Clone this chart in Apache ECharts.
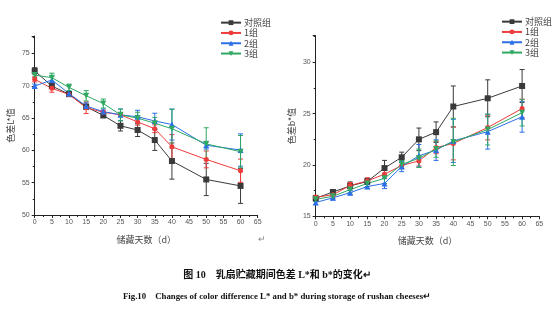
<!DOCTYPE html>
<html><head><meta charset="utf-8">
<script src="https://cdn.jsdelivr.net/npm/echarts@6/dist/echarts.min.js"></script>
<style>html,body{margin:0;padding:0;background:#fff}#c{width:554px;height:321px}</style>
</head><body><div id="c"></div>
<script>
var days = [0,5,10,15,20,25,30,35,40,50,60];
var groupNames = ['对照组','1组','2组','3组'];
var xTicks = [0,5,10,15,20,25,30,35,40,45,50,55,60,65];

var L_ctrl = [72.3,69.95,68.7,66.75,65.4,63.8,63.15,61.6,58.35,55.5,54.5];
var L_ctrl_err = [0.5,0.4,0.3,0.4,0.3,0.8,1.0,1.6,2.8,2.5,2.7];
var L_g1 = [71.0,69.6,68.65,66.6,65.9,65.5,64.4,63.35,60.55,58.6,56.85];
var L_g1_err = [0.4,0.6,0.3,0.9,0.3,0.3,0.5,0.6,1.9,1.3,1.8];
var L_g2 = [69.95,70.9,68.8,66.85,66.0,65.5,65.2,64.55,64.0,60.8,60.05];
var L_g2_err = [0.3,0.6,0.3,0.5,0.4,0.9,1.0,1.2,2.4,0.6,2.5];
var L_g3 = [71.65,71.25,69.75,68.45,67.25,65.5,65.0,64.2,63.35,61.0,59.8];
var L_g3_err = [0.4,0.7,0.5,0.8,0.7,0.9,0.9,0.9,3.0,2.5,2.5];

var B_ctrl = [16.75,17.37,17.95,18.4,19.7,20.75,22.5,23.2,25.7,26.5,27.7];
var B_ctrl_err = [0.2,0.2,0.4,0.3,0.75,0.5,1.1,1.0,2.0,1.8,1.6];
var B_g1 = [16.85,17.1,18.0,18.45,19.1,19.95,20.4,21.7,22.1,23.65,25.5];
var B_g1_err = [0.2,0.2,0.3,0.3,0.4,0.3,0.5,0.6,1.6,1.2,0.9];
var B_g2 = [16.35,16.8,17.3,17.9,18.2,19.85,20.9,21.45,22.35,23.25,24.7];
var B_g2_err = [0.2,0.2,0.2,0.2,0.5,0.5,1.1,1.0,2.1,1.7,1.5];
var B_g3 = [16.65,16.95,17.6,18.2,18.7,20.05,20.65,21.55,22.25,23.45,25.1];
var B_g3_err = [0.2,0.2,0.3,0.3,0.5,0.4,0.9,0.8,2.3,1.5,1.3];

var colors = ['#3a3a3a','#ef3b3b','#2a6fe6','#2fa862'];
var symbols = ['rect','circle','triangle','path://M0,0 L10,0 L5,9 Z'];
var sizes = [6,5,6,6];

var Lsets = [[L_ctrl,L_ctrl_err],[L_g1,L_g1_err],[L_g2,L_g2_err],[L_g3,L_g3_err]];
var Bsets = [[B_ctrl,B_ctrl_err],[B_g1,B_g1_err],[B_g2,B_g2_err],[B_g3,B_g3_err]];

function pairs(v){ return days.map(function(d,i){return [d,v[i]];}); }
function triples(v,e){ return days.map(function(d,i){return [d,v[i],e[i]];}); }

function errSeries(v,e,color,gi){
  return {
    type:'custom', xAxisIndex:gi, yAxisIndex:gi, silent:true, z:1,
    data: triples(v,e),
    renderItem:function(params,api){
      var x=api.value(0), y=api.value(1), er=api.value(2);
      var top=api.coord([x,y+er]), bot=api.coord([x,y-er]);
      var w=2.5;
      var st={stroke:color,lineWidth:1};
      return {type:'group',children:[
        {type:'line',shape:{x1:top[0],y1:top[1],x2:bot[0],y2:bot[1]},style:st},
        {type:'line',shape:{x1:top[0]-w,y1:top[1],x2:top[0]+w,y2:top[1]},style:st},
        {type:'line',shape:{x1:bot[0]-w,y1:bot[1],x2:bot[0]+w,y2:bot[1]},style:st}
      ]};
    }
  };
}

var series=[];
[Lsets,Bsets].forEach(function(sets,gi){
  sets.forEach(function(s,k){
    series.push(errSeries(s[0],s[1],colors[k],gi));
  });
  sets.forEach(function(s,k){
    series.push({
      name:groupNames[k], type:'line', xAxisIndex:gi, yAxisIndex:gi,
      data:pairs(s[0]), symbol:symbols[k], symbolSize:sizes[k], showSymbol:true,
      itemStyle:{color:colors[k]}, lineStyle:{color:colors[k],width:1}, z:3
    });
  });
});

function xAxis(gi){
  return {
    gridIndex:gi, type:'value', min:0, max:65, interval:5,
    name:'储藏天数（d）', nameLocation:'middle', nameGap:20,
    nameTextStyle:{fontSize:9,color:'#444',fontFamily:'Noto Sans CJK SC'},
    axisLine:{show:true,lineStyle:{color:'#222',width:1}},
    axisTick:{show:true,length:3,lineStyle:{color:'#222'}},
    minorTick:{show:true,splitNumber:2,length:2,lineStyle:{color:'#222'}},
    axisLabel:{fontSize:7,color:'#555',margin:4,fontFamily:'Liberation Sans'},
    splitLine:{show:false}
  };
}
function yAxis(gi,min,max,name){
  return {
    gridIndex:gi, type:'value', min:min, max:max, interval:5,
    name:name, nameLocation:'middle', nameGap:20, nameRotate:90,
    nameTextStyle:{fontSize:9,color:'#444',fontFamily:'Noto Sans CJK SC'},
    axisLine:{show:true,lineStyle:{color:'#222',width:1}},
    axisTick:{show:true,length:3,lineStyle:{color:'#222'}},
    minorTick:{show:true,splitNumber:2,length:2,lineStyle:{color:'#222'}},
    axisLabel:{fontSize:7,color:'#555',margin:5,showMaxLabel:false,fontFamily:'Liberation Sans'},
    splitLine:{show:false}
  };
}

function legend(left,top){
  return {orient:'vertical',left:left,top:top,padding:0,itemWidth:20,itemHeight:6,itemGap:0,
     data:groupNames.map(function(n){return {name:n};}),
     textStyle:{fontSize:9,lineHeight:10.3,color:'#444',padding:[0,0,0,-2],fontFamily:'Noto Sans CJK SC'},
     selectedMode:false};
}

var chart=echarts.init(document.getElementById('c'),null,{renderer:'canvas'});
chart.setOption({
  backgroundColor:'#fff',
  animation:false,
  grid:[
    {left:34.7,right:296.3,top:36,bottom:106},
    {left:315.7,right:14.7,top:35.7,bottom:104.7}
  ],
  xAxis:[xAxis(0),xAxis(1)],
  yAxis:[yAxis(0,50,77.7,'色差L*值'),yAxis(1,15,32.6,'色差b*值')],
  legend:[legend(220,17.5),legend(501,16.5)],
  series:series,
  graphic:[
    {type:'text',left:258,top:235,style:{text:'↵',fontSize:9,fill:'#888'}},
    {type:'text',left:'center',top:270,style:{text:'图 10　乳扇贮藏期间色差 L*和 b*的变化↵',
      font:'bold 10px "Liberation Serif", "Noto Sans CJK SC"',fill:'#111'}},
    {type:'text',left:'center',top:292,style:{text:'Fig.10　Changes of color difference L* and b* during storage of rushan cheeses↵',
      font:'bold 8.8px "Liberation Serif"',fill:'#111'}}
  ]
});
</script></body></html>
